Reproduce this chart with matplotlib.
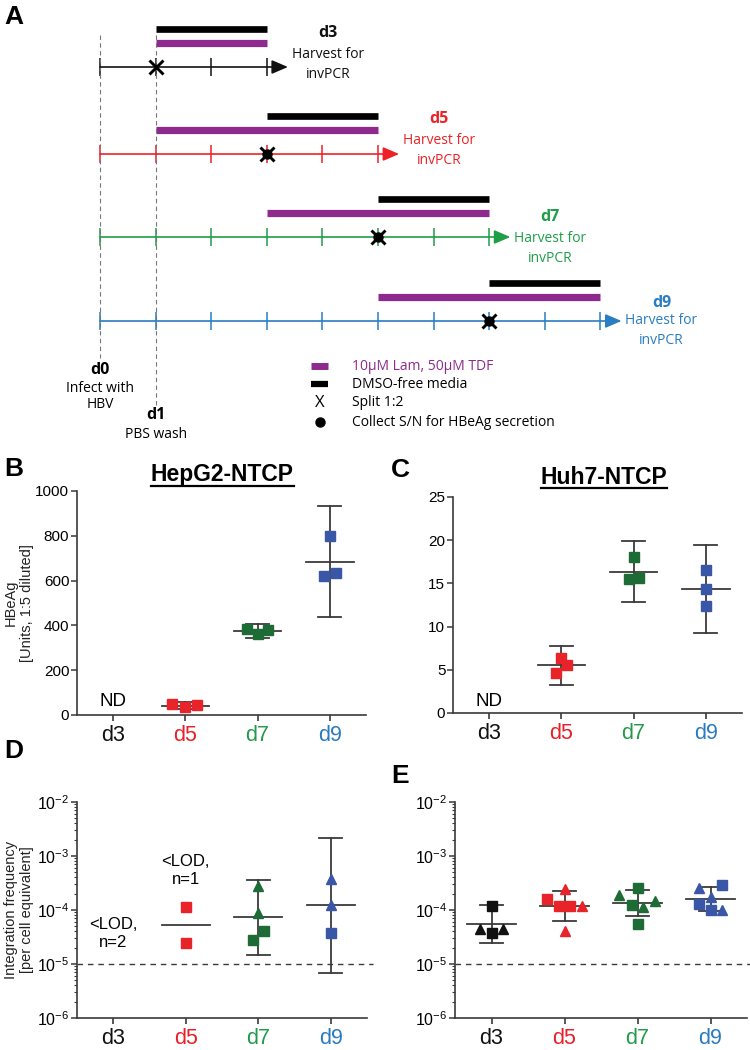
import numpy as np
import matplotlib
matplotlib.use('Agg')
import matplotlib.pyplot as plt
from matplotlib.lines import Line2D
from matplotlib.ticker import LogLocator, NullFormatter, FixedLocator, FixedFormatter

plt.rcParams['font.family'] = ['Liberation Sans', 'DejaVu Sans']
plt.rcParams['mathtext.default'] = 'regular'

# ------------------------------------------------------------------ data
groups = ['d3', 'd5', 'd7', 'd9']
harvest_days = [3, 5, 7, 9]
split_days = [1, 3, 5, 7]
collect_sn = [False, True, True, True]
lam_tdf_start = [1, 1, 3, 5]
dmso_free_start = [1, 3, 5, 7]

legend_labels = ['10\u00b5M Lam, 50\u00b5M TDF', 'DMSO-free media', 'Split 1:2',
                 'Collect S/N for HBeAg secretion']

# Panel B: HepG2-NTCP HBeAg (Units, 1:5 diluted); d3 not detected
B_values = [[], [48, 36, 43], [385, 362, 380], [800, 620, 635]]
B_markers = [[], ['s', 's', 's'], ['s', 's', 's'], ['s', 's', 's']]
B_jitter = [[], [-0.18, 0.0, 0.16], [-0.15, 0.0, 0.15], [0.0, -0.08, 0.08]]

# Panel C: Huh7-NTCP HBeAg
C_values = [[], [6.4, 4.6, 5.6], [18.0, 15.5, 15.6], [16.5, 14.3, 12.4]]
C_markers = [[], ['s', 's', 's'], ['s', 's', 's'], ['s', 's', 's']]
C_jitter = [[], [0.0, -0.08, 0.08], [0.0, -0.07, 0.08], [0.0, 0.0, 0.0]]

# Panel D: HepG2-NTCP integration frequency
D_values = [[], [1.15e-4, 2.5e-5], [2.78e-4, 8.7e-5, 2.78e-5, 4.15e-5],
            [3.8e-4, 1.24e-4, 3.8e-5]]
D_markers = [[], ['s', 's'], ['^', '^', 's', 's'], ['^', '^', 's']]
D_jitter = [[], [0.0, 0.0], [0.0, 0.0, -0.075, 0.075], [0.0, 0.0, 0.0]]
D_notes = ['<LOD,\nn=2', '<LOD,\nn=1']

# Panel E: Huh7-NTCP integration frequency
E_values = [[1.17e-4, 3.76e-5, 4.5e-5, 4.5e-5],
            [2.49e-4, 1.62e-4, 1.19e-4, 1.19e-4, 1.19e-4, 4.0e-5],
            [2.56e-4, 1.22e-4, 5.4e-5, 1.93e-4, 1.47e-4, 1.14e-4],
            [2.95e-4, 1.31e-4, 9.9e-5, 2.6e-4, 1.74e-4, 9.9e-5]]
E_markers = [['s', 's', '^', '^'],
             ['^', 's', 's', 's', '^', '^'],
             ['s', 's', 's', '^', '^', '^'],
             ['s', 's', 's', '^', '^', '^']]
E_jitter = [[0.0, 0.0, -0.16, 0.16],
            [0.0, -0.24, -0.08, 0.08, 0.24, 0.0],
            [0.0, -0.08, 0.0, -0.25, 0.24, 0.08],
            [0.16, -0.16, 0.0, -0.16, 0.0, 0.16]]

LOD = 1e-5
T975 = {2: 12.706, 3: 4.303, 4: 3.182, 5: 2.776, 6: 2.571}

# ------------------------------------------------------------------ style
W, H = 750, 1050
row_colors = ['#111111', '#ec2227', '#1f9e48', '#2a7dc0']
marker_colors = ['#111111', '#e8232a', '#1d6b35', '#3a56a6']
tick_colors = ['#111111', '#e8202a', '#229a4a', '#2a7bbf']
PURPLE = '#8e2a8e'
LINE_C = '#3a3a3a'
SCHEM = ['Open Sans', 'DejaVu Sans']

fig = plt.figure(figsize=(W / 100, H / 100), dpi=100)


def fx(px):
    return px / W


def fy(py):
    return 1 - py / H


def add_ax(left, top, right, bottom):
    return fig.add_axes([left / W, 1 - bottom / H, (right - left) / W, (bottom - top) / H])


# ------------------------------------------------------------------ panel A (schematic)
DAY_PX = 55.6
D0_PX = 100
axA = add_ax(0, 0, W, 450)
axA.set_xlim(-D0_PX / DAY_PX, (W - D0_PX) / DAY_PX)
axA.set_ylim(450, 0)
axA.axis('off')


def px2day(px):
    return (px - D0_PX) / DAY_PX


row_y = [67, 154, 237, 321]
black_dy, purple_dy = -38, -24
name_dy = [-34, -35, -20, -18]
harv_dy = [-12, -14, 2, 0]
LABEL_DX = 1.1

for i in range(4):
    y = row_y[i]
    hd = harvest_days[i]
    c = row_colors[i]
    axA.annotate('', xy=(hd + 0.38, y), xytext=(0, y),
                 arrowprops=dict(arrowstyle='-|>,head_length=0.7,head_width=0.3',
                                 color=c, lw=1.2, shrinkA=0, shrinkB=0, mutation_scale=14))
    days = np.arange(hd + 1)
    axA.plot(days, [y] * len(days), ls='none', marker='|', ms=13, mew=1.1, color=c)
    axA.plot([lam_tdf_start[i], hd], [y + purple_dy] * 2, color=PURPLE, lw=5.2,
             solid_capstyle='butt')
    axA.plot([dmso_free_start[i], hd], [y + black_dy] * 2, color='black', lw=4.8,
             solid_capstyle='butt')
    if collect_sn[i]:
        axA.plot(split_days[i], y, 'o', ms=6.5, color='black', zorder=5)
    axA.plot(split_days[i], y, marker='x', ms=9.5, mew=2.1, color='black', zorder=6)
    axA.text(hd + LABEL_DX, y + name_dy[i], groups[i], color=c, fontweight='bold',
             ha='center', va='center', fontsize=11.5, family=SCHEM)
    axA.text(hd + LABEL_DX, y + harv_dy[i], 'Harvest for', color=c,
             ha='center', va='center', fontsize=10, family=SCHEM)
    axA.text(hd + LABEL_DX, y + harv_dy[i] + 20, 'invPCR', color=c,
             ha='center', va='center', fontsize=10, family=SCHEM)

# dashed reference lines at d0 and d1
axA.plot([0, 0], [35, 358], ls=(0, (4, 3)), color='#777777', lw=0.8)
axA.plot([1, 1], [35, 405], ls=(0, (4, 3)), color='#777777', lw=0.8)
axA.text(0, 370, 'd0', fontweight='bold', ha='center', va='center', fontsize=11.5, family=SCHEM)
axA.text(0, 388, 'Infect with', ha='center', va='center', fontsize=10, family=SCHEM)
axA.text(0, 405, 'HBV', ha='center', va='center', fontsize=10, family=SCHEM)
axA.text(1, 415, 'd1', fontweight='bold', ha='center', va='center', fontsize=11.5, family=SCHEM)
axA.text(1, 434, 'PBS wash', ha='center', va='center', fontsize=10, family=SCHEM)

# legend
leg_y = [366, 384, 403, 422]
lx0, lx1, ltx = px2day(311), px2day(328), px2day(352)
axA.plot([lx0, lx1], [leg_y[0]] * 2, color=PURPLE, lw=5, solid_capstyle='butt')
axA.plot([lx0, lx1], [leg_y[1]] * 2, color='black', lw=4.5, solid_capstyle='butt')
axA.text((lx0 + lx1) / 2, leg_y[2], 'X', ha='center', va='center', fontsize=12, family=SCHEM)
axA.plot((lx0 + lx1) / 2, leg_y[3], 'o', ms=6.5, color='black')
for k, lab in enumerate(legend_labels):
    axA.text(ltx, leg_y[k], lab, ha='left', va='center', fontsize=10, family=SCHEM,
             color=PURPLE if k == 0 else 'black')


# ------------------------------------------------------------------ dot plots
def style_axis(ax, log=False):
    for s in ['top', 'right']:
        ax.spines[s].set_visible(False)
    for s in ['left', 'bottom']:
        ax.spines[s].set_color(LINE_C)
        ax.spines[s].set_linewidth(1.2)
    ax.set_xlim(-0.5, 3.5)
    ax.xaxis.set_major_locator(FixedLocator(range(4)))
    ax.xaxis.set_major_formatter(FixedFormatter(groups))
    ax.tick_params(axis='x', direction='out', length=4, width=1.2, color=LINE_C,
                   labelsize=15.5, pad=3)
    ax.tick_params(axis='y', which='major', direction='out', length=4, width=1.1,
                   color=LINE_C, labelsize=11.5 if log else 11, pad=1.5)
    for lbl, c in zip(ax.get_xticklabels(), tick_colors):
        lbl.set_color(c)
    ax.patch.set_alpha(0)


def draw_groups(ax, values, markers, jitter, log=False):
    for i, vals in enumerate(values):
        if len(vals) == 0:
            continue
        v = np.asarray(vals, dtype=float)
        n = len(v)
        if log:
            lv = np.log10(v)
            m = lv.mean()
            center = 10 ** m
            if n >= 3:
                h = T975[n] * lv.std(ddof=1) / np.sqrt(n)
                lo, hi = 10 ** (m - h), 10 ** (m + h)
        else:
            center = v.mean()
            if n >= 3:
                h = T975[n] * v.std(ddof=1) / np.sqrt(n)
                lo, hi = center - h, center + h
        ax.plot([i - 0.33, i + 0.33], [center] * 2, color=LINE_C, lw=1.3, zorder=2)
        if n >= 3:
            ax.plot([i, i], [lo, hi], color=LINE_C, lw=1.3, zorder=2)
            ax.plot([i - 0.16, i + 0.16], [lo] * 2, color=LINE_C, lw=1.3, zorder=2)
            ax.plot([i - 0.16, i + 0.16], [hi] * 2, color=LINE_C, lw=1.3, zorder=2)
        for val, mk, jt in zip(v, markers[i], jitter[i]):
            ax.plot(i + jt, val, marker=mk, ms=7.2 if mk == '^' else 6.6,
                    color=marker_colors[i], mec=marker_colors[i], ls='none', zorder=3)


# Panel B
axB = add_ax(77, 491, 366, 715)
style_axis(axB)
axB.set_ylim(0, 1000)
axB.set_yticks(range(0, 1001, 200))
draw_groups(axB, B_values, B_markers, B_jitter)
axB.text(0, 0.06, 'ND', transform=axB.get_xaxis_transform(), ha='center', va='center',
         fontsize=13.5)

# Panel C
axC = add_ax(453, 497, 742, 713)
style_axis(axC)
axC.set_ylim(0, 25)
axC.set_yticks(range(0, 26, 5))
draw_groups(axC, C_values, C_markers, C_jitter)
axC.text(0, 0.055, 'ND', transform=axC.get_xaxis_transform(), ha='center', va='center',
         fontsize=13.5)


def log_axis(ax):
    ax.set_yscale('log')
    ax.set_ylim(1e-6, 1e-2)
    ax.yaxis.set_major_locator(LogLocator(base=10, numticks=10))
    ax.yaxis.set_minor_locator(LogLocator(base=10, subs=np.arange(2, 10), numticks=20))
    ax.yaxis.set_minor_formatter(NullFormatter())
    ax.tick_params(axis='y', which='minor', direction='out', length=2.5, width=0.8,
                   color=LINE_C)
    ax.axhline(LOD, xmin=0, xmax=1.02, ls=(0, (4, 3.5)), color=LINE_C, lw=1.0,
               clip_on=False, zorder=1)


# Panel D
axD = add_ax(77, 802, 367, 1018)
style_axis(axD, log=True)
log_axis(axD)
draw_groups(axD, D_values, D_markers, D_jitter, log=True)
axD.text(0, 0.392, D_notes[0], transform=axD.get_xaxis_transform(), ha='center',
         va='center', fontsize=12, linespacing=1.25)
axD.text(1, 0.684, D_notes[1], transform=axD.get_xaxis_transform(), ha='center',
         va='center', fontsize=12, linespacing=1.25)

# Panel E
axE = add_ax(455, 802, 747, 1018)
style_axis(axE, log=True)
log_axis(axE)
draw_groups(axE, E_values, E_markers, E_jitter, log=True)

# y labels
fig.text(fx(19), fy(603), 'HBeAg\n[Units, 1:5 diluted]', rotation=90, ha='center',
         va='center', multialignment='center', fontsize=10.5, color='#222222')
fig.text(fx(19), fy(910), 'Integration frequency\n[per cell equivalent]', rotation=90,
         ha='center', va='center', multialignment='center', fontsize=10.5, color='#222222')

# panel letters
for letter, (px, py) in zip('ABCDE', [(4, 17), (4, 469), (391, 470), (4, 751), (391, 776)]):
    fig.text(fx(px), fy(py), letter, fontsize=19, fontweight='bold', ha='left', va='center')

# titles (underlined)
titles = []
titles.append(fig.text(fx(222), fy(475), 'HepG2-NTCP', fontsize=16.5, fontweight='bold',
                       ha='center', va='center'))
titles.append(fig.text(fx(604), fy(477), 'Huh7-NTCP', fontsize=16.5, fontweight='bold',
                       ha='center', va='center'))
fig.canvas.draw()
r = fig.canvas.get_renderer()
for t in titles:
    bb = t.get_window_extent(r)
    yline = (bb.y0 + 0.5) / H
    fig.add_artist(Line2D([bb.x0 / W, bb.x1 / W], [yline, yline], transform=fig.transFigure,
                          color='black', lw=1.6))

fig.savefig('out.png', dpi=100)
